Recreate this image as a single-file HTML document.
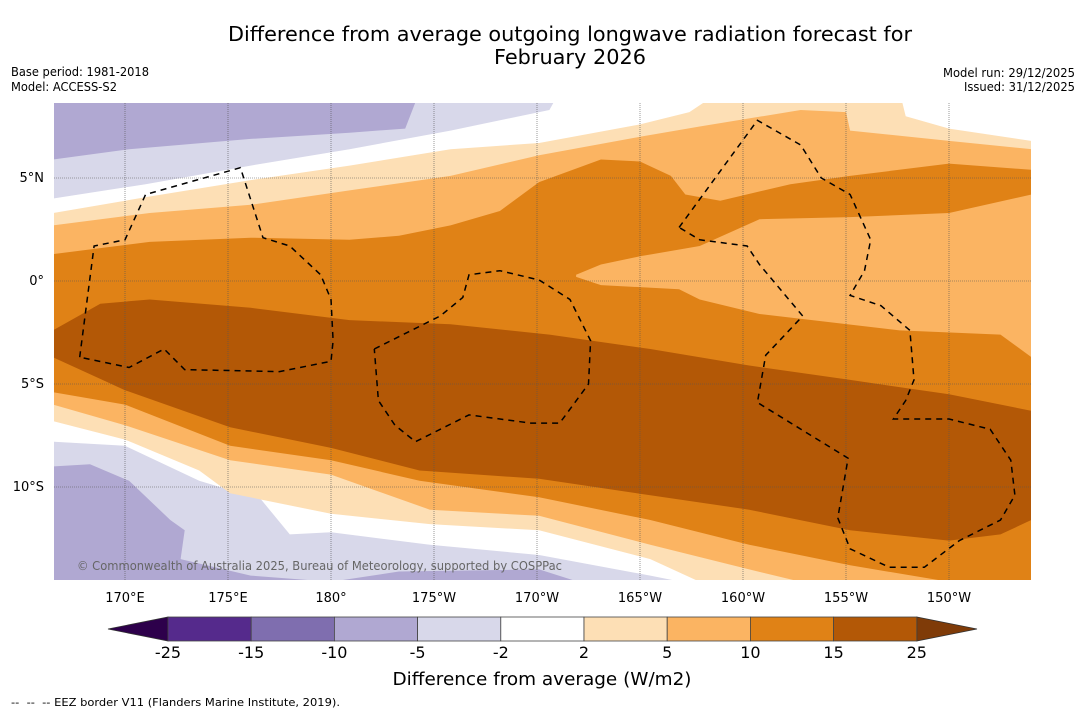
<!DOCTYPE html>
<html><head><meta charset="utf-8"><style>
body{margin:0;background:#fff;}
svg{display:block;font-family:"DejaVu Sans","Liberation Sans",sans-serif;}
</style></head><body>
<svg id="chart" width="1085" height="713" viewBox="0 0 1085 713" xmlns="http://www.w3.org/2000/svg">
<rect width="1085" height="713" fill="#fff"/>
<text x="570" y="41" font-size="20" text-anchor="middle" textLength="684" lengthAdjust="spacingAndGlyphs" fill="#000">Difference from average outgoing longwave radiation forecast for</text>
<text x="570" y="64" font-size="20" text-anchor="middle" textLength="152" lengthAdjust="spacingAndGlyphs" fill="#000">February 2026</text>
<text x="11" y="76" font-size="12" textLength="138" lengthAdjust="spacingAndGlyphs">Base period: 1981-2018</text>
<text x="11" y="91" font-size="12" textLength="106" lengthAdjust="spacingAndGlyphs">Model: ACCESS-S2</text>
<text x="1075" y="77" font-size="12" text-anchor="end" textLength="132" lengthAdjust="spacingAndGlyphs">Model run: 29/12/2025</text>
<text x="1075" y="91" font-size="12" text-anchor="end" textLength="111" lengthAdjust="spacingAndGlyphs">Issued: 31/12/2025</text>
<defs><clipPath id="mapclip"><rect x="54" y="103" width="977" height="477"/></clipPath></defs>
<g id="map" clip-path="url(#mapclip)"></g>
<g id="axes"></g>
<g id="cbar"></g>
<text x="542" y="685" font-size="18" text-anchor="middle" textLength="299" lengthAdjust="spacingAndGlyphs">Difference from average (W/m2)</text>
<text x="11" y="706" font-size="11" textLength="329" lengthAdjust="spacingAndGlyphs">-- &#160;-- &#160;-- EEZ border V11 (Flanders Marine Institute, 2019).</text>
</svg>
<script>
// Contour boundaries (lon in degrees E, lat in degrees)
const n2Lon=[166.5,171.2,176.1,180.9,185.8,190.1,195,197.4,198.9,207.6,207.9,210,214];
const n2Lat=[3.3,4.1,4.9,5.6,6.4,6.7,7.6,8.2,9.2,9.2,8.0,7.4,6.8];
const s2Lon=[166.5,170,173.6,175.1,180,184.8,190.1,195.5,197.9,214];
const s2Lat=[-6.8,-7.7,-9.2,-10.3,-11.3,-11.8,-12.1,-13.5,-14.6,-15.5];
const n5Lon=[166.5,171.2,176.1,180.9,185.8,190.1,195,197.9,202.8,205,205.2,210,214];
const n5Lat=[2.7,3.3,3.7,4.4,5.1,6.1,7.0,7.5,8.3,8.2,7.3,6.8,6.4];
const s5Lon=[166.5,170,175.1,180,184.8,190.1,195.5,200.3,202.8,214];
const s5Lat=[-6.0,-7.0,-8.7,-9.4,-11.1,-11.4,-12.8,-14.0,-14.6,-15.5];
const n10Lon=[166.5,171.2,176.1,180.9,183.3,185.8,188.2,190.1,193.1,195,196.5,197.2,198.9,202.3,205.2,210,214];
const n10Lat=[1.3,1.9,2.1,2.0,2.2,2.7,3.4,4.8,5.9,5.8,5.1,4.2,3.9,4.7,5.1,5.7,5.4];
const s10Lon=[166.5,170,175.1,180,184.3,190.1,195.5,200.3,205.2,210,214];
const s10Lat=[-5.4,-6.0,-8.0,-8.7,-9.7,-10.5,-11.6,-12.8,-13.8,-14.6,-15.5];
const lensNLon=[191.9,193.1,195,197.9,200.8,205.2,210,214];
const lensNLat=[0.3,0.8,1.2,1.7,3.0,3.1,3.3,4.2];
const lensSLon=[214,212.5,207.6,200.8,197.9,196.9,193.1,191.9];
const lensSLat=[-3.7,-2.6,-2.4,-1.6,-0.9,-0.4,-0.2,0.2];
const n15Lon=[166.5,168.8,171.2,176.1,180.9,185.8,190.6,195.5,200.3,205.2,210,214];
const n15Lat=[-2.4,-1.1,-0.9,-1.3,-1.9,-2.1,-2.6,-3.3,-4.1,-4.8,-5.5,-6.3];
const s15Lon=[166.5,170,175.1,180,184.3,190.1,195.5,200.3,205.2,210,212.5,214];
const s15Lat=[-3.7,-5.3,-7.1,-8.1,-9.2,-9.6,-10.4,-11.1,-12.1,-12.6,-12.3,-11.6];
const nNeg2Lon=[166.5,171,176.1,180.9,185.8,190.6,191.1];
const nNeg2Lat=[4.0,4.7,5.6,6.4,7.3,8.3,9.2];
const nNeg5Lon=[166.5,170.2,176.1,180.9,183.6,184.3];
const nNeg5Lat=[5.9,6.4,6.9,7.2,7.4,9.2];
const sNeg2Lon=[166.5,170,173.6,176.6,178,180,184.8,190.1,195.5,197,198];
const sNeg2Lat=[-7.8,-8.0,-9.7,-10.6,-12.3,-12.2,-12.8,-13.3,-14.3,-14.6,-15.5];
const sNeg5Lon=[166.5,168.3,170.2,172.2,172.9,172.7,176.1,180,183.3,190.1,192,193];
const sNeg5Lat=[-9.0,-8.9,-9.7,-11.6,-12.1,-13.5,-14.3,-14.6,-14.1,-14.0,-14.6,-15.5];
// EEZ borders
const eezA=[[167.8,-3.7],[168.5,1.7],[170,2.0],[171,4.2],[175.6,5.5],[176.7,2.1],[178,1.7],[179.5,0.3],[180,-0.9],[180.1,-2.9],[180,-3.9],[177.5,-4.4],[172.9,-4.3],[171.9,-3.3],[170.2,-4.2],[167.8,-3.7]];
const eezB=[[182.1,-3.3],[185.3,-1.7],[186.4,-0.8],[186.7,0.3],[188.2,0.5],[190.1,0.05],[191.6,-0.9],[192.6,-2.9],[192.5,-5.0],[191.1,-6.9],[189.7,-6.9],[186.7,-6.5],[184.1,-7.8],[183.1,-7.0],[182.3,-5.8],[182.1,-3.3]];
const eezC=[[196.9,2.6],[200.7,7.8],[202.8,6.6],[203.8,5.0],[205.2,4.2],[206.2,2.0],[205.9,0.5],[205.2,-0.7],[206.7,-1.2],[208.1,-2.4],[208.3,-4.8],[207.9,-5.8],[207.3,-6.7],[208.6,-6.7],[210,-6.7],[212,-7.2],[213,-8.7],[213.2,-10.4],[212.5,-11.6],[210.5,-12.6],[208.8,-13.9],[207.1,-13.9],[205.2,-13.0],[204.6,-11.5],[205.1,-8.6],[200.7,-5.9],[201.1,-3.6],[202.9,-1.7],[200.8,0.8],[200.2,1.7],[197.9,2.0],[196.9,2.6]];
const lonLabels=["170°E","175°E","180°","175°W","170°W","165°W","160°W","155°W","150°W"];
const lonTickVals=[170,175,180,185,190,195,200,205,210];
const latTickVals=[5,0,-5,-10];
const latLabels=["5°N","0°","5°S","10°S"];
const cbLevels=["-25","-15","-10","-5","-2","2","5","10","15","25"];
const cbColors=["#552a8c","#7f6eaf","#b0a8d2","#d8d8ea","#ffffff","#fddfb5","#fbb462","#e08216","#b35806"];

const X=lon=>125+(lon-170)*20.6;
const Y=lat=>281-lat*20.6;
const NS="http://www.w3.org/2000/svg";
const map=document.getElementById('map');
function pts(lons,lats){return lons.map((l,i)=>X(l).toFixed(1)+','+Y(lats[i]).toFixed(1));}
function poly(d,fill,name){const p=document.createElementNS(NS,'path');p.setAttribute('d',d);p.setAttribute('fill',fill);


map.appendChild(p);}
function band(nL,nA,sL,sA,fill,name){
 const a=pts(nL,nA),b=pts(sL,sA);
 const bb=(sL[0]<sL[sL.length-1])?b.slice().reverse():b;
 poly('M'+a.join('L')+'L'+bb.join('L')+'Z',fill,name);}
function topRegion(L,A,fill,name){const a=pts(L,A);poly('M'+X(160)+','+Y(12)+'L'+X(160)+','+Y(A[0])+'L'+a.join('L')+'L'+X(L[L.length-1])+','+Y(12)+'Z',fill,name);}
function botRegion(L,A,fill,name){const a=pts(L,A);poly('M'+X(160)+','+Y(-20)+'L'+X(160)+','+Y(A[0])+'L'+a.join('L')+'L'+X(220)+','+Y(A[A.length-1])+'L'+X(220)+','+Y(-20)+'Z',fill,name);}
topRegion(nNeg2Lon,nNeg2Lat,cbColors[3],'north-negative-2-region');
topRegion(nNeg5Lon,nNeg5Lat,cbColors[2],'north-negative-5-region');
botRegion(sNeg2Lon,sNeg2Lat,cbColors[3],'south-negative-2-region');
botRegion(sNeg5Lon,sNeg5Lat,cbColors[2],'south-negative-5-region');
band(n2Lon,n2Lat,s2Lon,s2Lat,cbColors[5],'positive-2-region');
band(n5Lon,n5Lat,s5Lon,s5Lat,cbColors[6],'positive-5-region');
band(n10Lon,n10Lat,s10Lon,s10Lat,cbColors[7],'positive-10-region');
(function(){const a=pts(lensNLon,lensNLat),b=pts(lensSLon,lensSLat);poly('M'+a.join('L')+'L'+X(216)+','+Y(4.2)+'L'+X(216)+','+Y(-3.7)+'L'+b.join('L')+'Z',cbColors[6],'positive-5-lens');})();
band(n15Lon,n15Lat,s15Lon,s15Lat,cbColors[8],'positive-15-region');
// grid
lonTickVals.forEach(v=>{const l=document.createElementNS(NS,'line');l.setAttribute('x1',X(v));l.setAttribute('x2',X(v));l.setAttribute('y1',103);l.setAttribute('y2',580);l.setAttribute('stroke','#555');l.setAttribute('stroke-width','0.6');l.setAttribute('stroke-dasharray','1,1');


map.appendChild(l);});
latTickVals.forEach(v=>{const l=document.createElementNS(NS,'line');l.setAttribute('x1',54);l.setAttribute('x2',1031);l.setAttribute('y1',Y(v));l.setAttribute('y2',Y(v));l.setAttribute('stroke','#555');l.setAttribute('stroke-width','0.6');l.setAttribute('stroke-dasharray','1,1');


map.appendChild(l);});
// EEZ borders
[eezA,eezB,eezC].forEach((b,i)=>{const p=document.createElementNS(NS,'polyline');p.setAttribute('points',b.map(q=>X(q[0]).toFixed(1)+','+Y(q[1]).toFixed(1)).join(' '));p.setAttribute('fill','none');p.setAttribute('stroke','#000');p.setAttribute('stroke-width','1.5');p.setAttribute('stroke-dasharray','6,5');


map.appendChild(p);});
const cr=document.createElementNS(NS,'text');cr.setAttribute('x',77);cr.setAttribute('y',570);cr.setAttribute('font-size','12');cr.setAttribute('fill','#666');cr.setAttribute('textLength','485');cr.setAttribute('lengthAdjust','spacingAndGlyphs');cr.textContent='© Commonwealth of Australia 2025, Bureau of Meteorology, supported by COSPPac';


map.appendChild(cr);
// axes labels
const axes=document.getElementById('axes');
lonTickVals.forEach((v,i)=>{const t=document.createElementNS(NS,'text');t.setAttribute('x',X(v));t.setAttribute('y',602);t.setAttribute('font-size','13');t.setAttribute('text-anchor','middle');t.textContent=lonLabels[i];


axes.appendChild(t);});
latTickVals.forEach((v,i)=>{const t=document.createElementNS(NS,'text');t.setAttribute('x',44);t.setAttribute('y',Y(v)+4);t.setAttribute('font-size','13');t.setAttribute('text-anchor','end');t.textContent=latLabels[i];


axes.appendChild(t);});
// colorbar
const cb=document.getElementById('cbar');
const cbX=i=>168+i*83.2;
const a1=document.createElementNS(NS,'polygon');a1.setAttribute('points',`${cbX(0)},617 ${cbX(0)},641 108,629`);a1.setAttribute('fill','#2d004b');a1.setAttribute('stroke','#333');a1.setAttribute('stroke-width','0.8');


cb.appendChild(a1);
const a2=document.createElementNS(NS,'polygon');a2.setAttribute('points',`${cbX(9)},617 ${cbX(9)},641 977,629`);a2.setAttribute('fill','#7f3b08');a2.setAttribute('stroke','#333');a2.setAttribute('stroke-width','0.8');


cb.appendChild(a2);
cbColors.forEach((c,i)=>{const r=document.createElementNS(NS,'rect');r.setAttribute('x',cbX(i));r.setAttribute('y',617);r.setAttribute('width',83.2);r.setAttribute('height',24);r.setAttribute('fill',c);r.setAttribute('stroke','#444');r.setAttribute('stroke-width','0.8');


cb.appendChild(r);});
cbLevels.forEach((s,i)=>{const t=document.createElementNS(NS,'text');t.setAttribute('x',cbX(i));t.setAttribute('y',658);t.setAttribute('font-size','16');t.setAttribute('text-anchor','middle');t.textContent=s;


cb.appendChild(t);});
</script>
</body></html>
